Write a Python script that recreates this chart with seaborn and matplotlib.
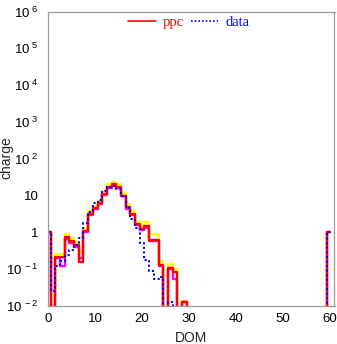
import numpy as np
import pandas as pd
import matplotlib
matplotlib.use("Agg")
import matplotlib.pyplot as plt
from matplotlib.ticker import FuncFormatter, FixedLocator, MultipleLocator, NullFormatter
import seaborn as sns

# ---- data ----
dom = list(range(0, 61))

ppc_red_head = [1, 0, 0.22, 0.22, 0.76, 0.6, 0.45, 0.16, 1.1, 3.2, 4.5, 6.2, 11, 17, 20.5, 17,
                10, 4.8, 3.1, 1.7, 1.2, 1.5, 0.62, 0.62, 0.13, 0, 0.11, 0.085, 0, 0.0128]
ppc_yellow_head = [1, 0, 0.26, 0.26, 0.9, 0.7, 0.55, 0.3, 1.3, 3.8, 5.2, 7.3, 13, 20.5, 23.5, 20,
                   12, 6, 3.8, 2.0, 1.45, 1.9, 0.9, 0.9, 0.17, 0, 0.14, 0.1, 0, 0.0135]
ppc_magenta_head = [1, 0, 0.2, 0.12, 0.66, 0.5, 0.39, 0.2, 1.05, 3.0, 4.3, 5.9, 10.5, 16, 19, 16,
                    9.5, 4.4, 2.9, 1.6, 1.15, 1.35, 0.58, 0.58, 0.12, 0, 0.1, 0.054, 0, 0.0128]
data_blue_head = [1, 0.026, 0.12, 0.17, 0.24, 0.33, 0.45, 0.7, 1.8, 3.6, 6.2, 7.7, 13, 17, 18, 15.5,
                  10, 4.5, 2.3, 1.3, 0.5, 0.18, 0.09, 0.054, 0.063, 0, 0.0126, 0, 0, 0]
last_dom_value = 1.0

y_exponents = [-2, -1, 0, 1, 2, 3, 4, 5, 6]
x_ticks = [0, 10, 20, 30, 40, 50, 60]

def full(head):
    return list(head) + [0.0] * (60 - len(head)) + [last_dom_value]

ppc_red = full(ppc_red_head)
ppc_yellow = full(ppc_yellow_head)
ppc_magenta = full(ppc_magenta_head)
data_blue = full(data_blue_head)

df = pd.DataFrame({"DOM": dom, "ppc_hi": ppc_yellow, "ppc_lo": ppc_magenta,
                   "ppc": ppc_red, "data": data_blue})

# ---- style ----
sns.set_style("white")
plt.rcParams["font.family"] = ["Liberation Sans", "DejaVu Sans"]
plt.rcParams["mathtext.fontset"] = "custom"
plt.rcParams["mathtext.rm"] = "Liberation Sans"
plt.rcParams["mathtext.it"] = "Liberation Sans:italic"
plt.rcParams["mathtext.default"] = "regular"

W, H = 337, 344
fig = plt.figure(figsize=(W / 100, H / 100), dpi=100)
ax = fig.add_axes([48.3 / W, 1 - 306 / H, (334.5 - 48.3) / W, (306 - 11.5) / H])

lw = 1.7
sns.lineplot(data=df, x="DOM", y="ppc_hi", ax=ax, color="#ffff00", lw=lw,
             drawstyle="steps-mid", legend=False)
sns.lineplot(data=df, x="DOM", y="ppc_lo", ax=ax, color="#ff00ff", lw=lw,
             drawstyle="steps-mid", legend=False)
sns.lineplot(data=df, x="DOM", y="ppc", ax=ax, color="#ff0000", lw=lw,
             drawstyle="steps-mid", legend=False)
sns.lineplot(data=df, x="DOM", y="data", ax=ax, color="#0000ff", lw=1.5,
             drawstyle="steps-mid", legend=False, linestyle=(0, (1, 1.2)))

ax.set_yscale("log")
ax.set_ylim(10.0 ** y_exponents[0], 10.0 ** y_exponents[-1])
ax.set_xlim(0, 61)

def yfmt(v, pos):
    e = int(round(np.log10(v)))
    if e == 0:
        return "1"
    if e == 1:
        return "10"
    return r"$10^{\ %d}$" % e

major_y = [10.0 ** e for e in y_exponents]
minor_y = [m * 10.0 ** e for e in y_exponents[:-1] for m in range(2, 10)]
ax.yaxis.set_major_locator(FixedLocator(major_y))
ax.yaxis.set_minor_locator(FixedLocator(minor_y))
ax.yaxis.set_major_formatter(FuncFormatter(yfmt))
ax.yaxis.set_minor_formatter(NullFormatter())
ax.xaxis.set_major_locator(FixedLocator(x_ticks))
ax.xaxis.set_minor_locator(FixedLocator(list(range(0, 61, 2))))
ax.xaxis.set_minor_formatter(NullFormatter())

gray = "#9a9a9a"
for s in ax.spines.values():
    s.set_color(gray)
    s.set_linewidth(0.9)
ax.tick_params(axis="both", which="both", direction="in", color=gray, labelsize=9.5,
               labelcolor="black", top=False, right=False)
ax.tick_params(axis="both", which="major", length=6, width=0.8, pad=5)
ax.tick_params(axis="both", which="minor", length=3, width=0.7)
ax.tick_params(axis="y", which="major", pad=7)

ax.set_xlabel("DOM", fontsize=10, labelpad=4)
ax.set_ylabel("charge", fontsize=10)
ax.yaxis.set_label_coords((13 - 48.3) / (334.5 - 48.3), (306 - 158) / (306 - 11.5))

lines = ax.get_lines()
leg = ax.legend([lines[2], lines[3]], ["ppc", "data"], loc="center",
                bbox_to_anchor=(0.49, 0.964), ncol=2, frameon=False,
                handlelength=1.9, handletextpad=0.45, columnspacing=0.5,
                prop={"family": "Liberation Serif", "size": 10.5})
for txt, c in zip(leg.get_texts(), ["#ff0000", "#0000ff"]):
    txt.set_color(c)
for lh in leg.get_lines():
    lh.set_linewidth(1.2)

fig.savefig("out.png", dpi=100)
